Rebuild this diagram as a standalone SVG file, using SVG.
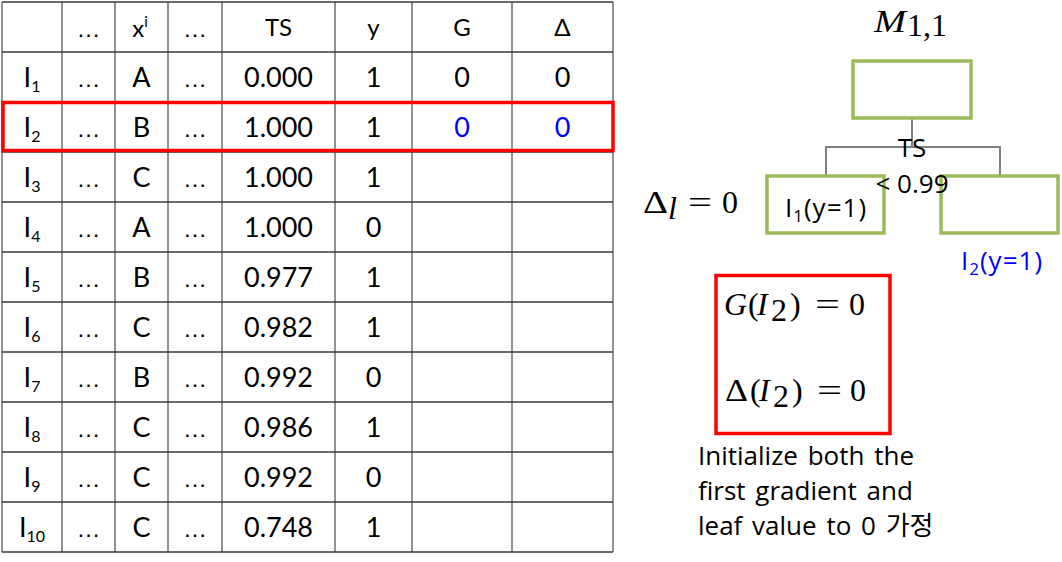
<svg xmlns="http://www.w3.org/2000/svg" width="1062" height="562" viewBox="0 0 1062 562">
<style>
.grid line{stroke:#3a3a3a;stroke-width:1.5}
.grid .v{stroke:#6e6e6e}
.tb{font-family:Lato,"Liberation Sans",sans-serif;font-size:27px;fill:#000;text-anchor:middle}
.hd{font-family:Lato,"Liberation Sans",sans-serif;font-size:24px;fill:#000;text-anchor:middle}
.el{font-family:"Liberation Sans",sans-serif;font-size:24px;fill:#000;text-anchor:middle}
.sub{font-size:16px}
.node{fill:#fff;stroke:#9BBB59;stroke-width:3.5}
.edge{fill:none;stroke:#808080;stroke-width:2}
.lbl{font-family:"Open Sans","Noto Sans CJK KR",sans-serif;font-size:26px;fill:#000}
.math{font-family:"Liberation Serif","DejaVu Serif",serif;font-size:32px;fill:#000}
.it{font-style:italic}
.redbox{fill:none;stroke:#FF0000;stroke-width:3.5}
.tb.blue,.lbl.blue{fill:#0000FF}
</style>
<rect width="1062" height="562" fill="#fff"/>
<g id="table">
<g class="grid">
<line class="v" x1="2" y1="2" x2="2" y2="552"/>
<line class="v" x1="62" y1="2" x2="62" y2="552"/>
<line class="v" x1="115" y1="2" x2="115" y2="552"/>
<line class="v" x1="168" y1="2" x2="168" y2="552"/>
<line class="v" x1="222" y1="2" x2="222" y2="552"/>
<line class="v" x1="335" y1="2" x2="335" y2="552"/>
<line class="v" x1="412" y1="2" x2="412" y2="552"/>
<line class="v" x1="512" y1="2" x2="512" y2="552"/>
<line class="v" x1="613" y1="2" x2="613" y2="552"/>
<line x1="2" y1="2" x2="613" y2="2"/>
<line x1="2" y1="52" x2="613" y2="52"/>
<line x1="2" y1="102" x2="613" y2="102"/>
<line x1="2" y1="152" x2="613" y2="152"/>
<line x1="2" y1="202" x2="613" y2="202"/>
<line x1="2" y1="252" x2="613" y2="252"/>
<line x1="2" y1="302" x2="613" y2="302"/>
<line x1="2" y1="352" x2="613" y2="352"/>
<line x1="2" y1="402" x2="613" y2="402"/>
<line x1="2" y1="452" x2="613" y2="452"/>
<line x1="2" y1="502" x2="613" y2="502"/>
<line x1="2" y1="552" x2="613" y2="552"/>
</g>
<g id="header">
<text class="el" x="88.5" y="37">…</text>
<text class="hd" x="140" y="37">x<tspan font-size="15" dy="-10">i</tspan></text>
<text class="el" x="195" y="37">…</text>
<text class="hd" x="278.5" y="36">TS</text>
<text class="hd" x="373.5" y="36">y</text>
<text class="hd" x="462" y="36">G</text>
<text class="hd" x="562.5" y="36">Δ</text>
</g>
<g id="row1">
<text class="tb" x="32" y="87">I<tspan class="sub" dy="5">1</tspan></text>
<text class="el" x="88.5" y="87">…</text><text class="tb" x="141.5" y="87">A</text><text class="el" x="195" y="87">…</text>
<text class="tb" x="278.5" y="87">0.000</text><text class="tb" x="373.5" y="87">1</text>
<text class="tb" x="462" y="87">0</text><text class="tb" x="562.5" y="87">0</text>
</g>
<g id="row2">
<text class="tb" x="32" y="137">I<tspan class="sub" dy="5">2</tspan></text>
<text class="el" x="88.5" y="137">…</text><text class="tb" x="141.5" y="137">B</text><text class="el" x="195" y="137">…</text>
<text class="tb" x="278.5" y="137">1.000</text><text class="tb" x="373.5" y="137">1</text>
<text class="tb blue" x="462" y="137">0</text><text class="tb blue" x="562.5" y="137">0</text>
</g>
<g id="row3">
<text class="tb" x="32" y="187">I<tspan class="sub" dy="5">3</tspan></text>
<text class="el" x="88.5" y="187">…</text><text class="tb" x="141.5" y="187">C</text><text class="el" x="195" y="187">…</text>
<text class="tb" x="278.5" y="187">1.000</text><text class="tb" x="373.5" y="187">1</text>
</g>
<g id="row4">
<text class="tb" x="32" y="237">I<tspan class="sub" dy="5">4</tspan></text>
<text class="el" x="88.5" y="237">…</text><text class="tb" x="141.5" y="237">A</text><text class="el" x="195" y="237">…</text>
<text class="tb" x="278.5" y="237">1.000</text><text class="tb" x="373.5" y="237">0</text>
</g>
<g id="row5">
<text class="tb" x="32" y="287">I<tspan class="sub" dy="5">5</tspan></text>
<text class="el" x="88.5" y="287">…</text><text class="tb" x="141.5" y="287">B</text><text class="el" x="195" y="287">…</text>
<text class="tb" x="278.5" y="287">0.977</text><text class="tb" x="373.5" y="287">1</text>
</g>
<g id="row6">
<text class="tb" x="32" y="337">I<tspan class="sub" dy="5">6</tspan></text>
<text class="el" x="88.5" y="337">…</text><text class="tb" x="141.5" y="337">C</text><text class="el" x="195" y="337">…</text>
<text class="tb" x="278.5" y="337">0.982</text><text class="tb" x="373.5" y="337">1</text>
</g>
<g id="row7">
<text class="tb" x="32" y="387">I<tspan class="sub" dy="5">7</tspan></text>
<text class="el" x="88.5" y="387">…</text><text class="tb" x="141.5" y="387">B</text><text class="el" x="195" y="387">…</text>
<text class="tb" x="278.5" y="387">0.992</text><text class="tb" x="373.5" y="387">0</text>
</g>
<g id="row8">
<text class="tb" x="32" y="437">I<tspan class="sub" dy="5">8</tspan></text>
<text class="el" x="88.5" y="437">…</text><text class="tb" x="141.5" y="437">C</text><text class="el" x="195" y="437">…</text>
<text class="tb" x="278.5" y="437">0.986</text><text class="tb" x="373.5" y="437">1</text>
</g>
<g id="row9">
<text class="tb" x="32" y="487">I<tspan class="sub" dy="5">9</tspan></text>
<text class="el" x="88.5" y="487">…</text><text class="tb" x="141.5" y="487">C</text><text class="el" x="195" y="487">…</text>
<text class="tb" x="278.5" y="487">0.992</text><text class="tb" x="373.5" y="487">0</text>
</g>
<g id="row10">
<text class="tb" x="32" y="537">I<tspan class="sub" dy="5">10</tspan></text>
<text class="el" x="88.5" y="537">…</text><text class="tb" x="141.5" y="537">C</text><text class="el" x="195" y="537">…</text>
<text class="tb" x="278.5" y="537">0.748</text><text class="tb" x="373.5" y="537">1</text>
</g>
<rect id="highlight" class="redbox" x="3" y="102.5" width="610" height="48"/>
</g>
<g id="title">
<text class="math it" x="874" y="32" font-size="34" textLength="32" lengthAdjust="spacingAndGlyphs">M</text>
<text class="math" x="907" y="36" font-size="22">1,1</text>
</g>
<g id="connectors">
<path class="edge" d="M912 118 V147 M826 175 V147 H1000 V175"/>
</g>
<g id="root"><rect class="node" x="853" y="61" width="118" height="57"/></g>
<g id="leafL">
<rect class="node" x="767" y="176" width="117" height="57"/>
<text class="lbl" x="826" y="217" text-anchor="middle" font-size="24" letter-spacing="1">I<tspan font-size="17" dy="5">1</tspan><tspan dy="-5">(y=1)</tspan></text>
</g>
<g id="leafR">
<rect class="node" x="941" y="176" width="117" height="57"/>
</g>
<g id="splitlabel">
<text class="lbl" x="912" y="157" text-anchor="middle" font-size="27">TS</text>
<text class="lbl" x="912" y="193" text-anchor="middle" font-size="28">&lt; 0.99</text>
</g>
<text class="lbl blue" x="1002" y="270" text-anchor="middle" font-size="24" letter-spacing="1">I<tspan font-size="17" dy="5">2</tspan><tspan dy="-5">(y=1)</tspan></text>
<g id="deltal">
<text class="math" x="643" y="213" font-size="33" textLength="25" lengthAdjust="spacingAndGlyphs">Δ</text>
<text class="math it" x="668" y="219" font-size="21">l</text>
<text class="math" x="688" y="213" textLength="24" lengthAdjust="spacingAndGlyphs">=</text>
<text class="math" x="722" y="213">0</text>
</g>
<g id="initbox">
<rect class="redbox" x="716" y="275.5" width="174" height="158"/>
<text class="math it" x="724" y="315" font-size="33">G</text>
<text class="math" x="748" y="315" font-size="33">(</text>
<text class="math it" x="757" y="315" font-size="33">I</text>
<text class="math" x="771" y="321" font-size="22">2</text>
<text class="math" x="790" y="315" font-size="33">)</text>
<text class="math" x="815" y="315" font-size="33" textLength="25" lengthAdjust="spacingAndGlyphs">=</text>
<text class="math" x="849" y="315" font-size="33">0</text>
<text class="math" x="725" y="401" font-size="33" textLength="23" lengthAdjust="spacingAndGlyphs">Δ</text>
<text class="math" x="750" y="401" font-size="33">(</text>
<text class="math it" x="759" y="401" font-size="33">I</text>
<text class="math" x="773" y="407" font-size="22">2</text>
<text class="math" x="792" y="401" font-size="33">)</text>
<text class="math" x="817" y="401" font-size="33" textLength="25" lengthAdjust="spacingAndGlyphs">=</text>
<text class="math" x="850" y="401" font-size="33">0</text>
</g>
<g id="caption" class="lbl" word-spacing="3">
<text x="698" y="465">Initialize both the</text>
<text x="698" y="500">first gradient and</text>
<text x="698" y="535">leaf value to 0 가정</text>
</g>
</svg>
